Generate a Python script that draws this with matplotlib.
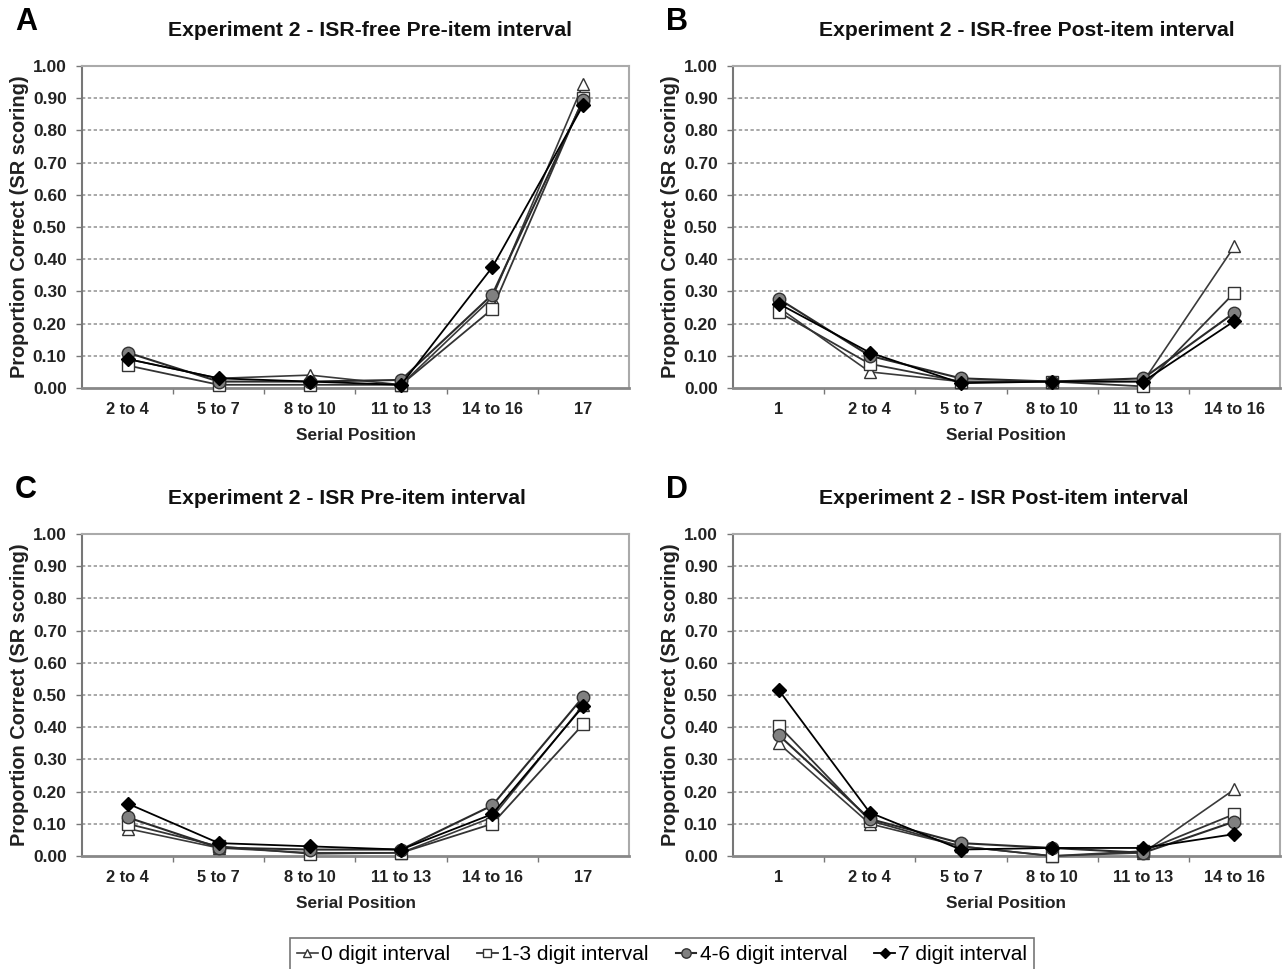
import matplotlib
matplotlib.use("Agg")
import matplotlib.pyplot as plt
from matplotlib.ticker import FixedLocator, NullFormatter
from matplotlib.lines import Line2D

plt.rcParams['font.family'] = ['Liberation Sans', 'DejaVu Sans']

cats_pre = ["2 to 4", "5 to 7", "8 to 10", "11 to 13", "14 to 16", "17"]
cats_post = ["1", "2 to 4", "5 to 7", "8 to 10", "11 to 13", "14 to 16"]

series_names = ["0 digit interval", "1-3 digit interval", "4-6 digit interval", "7 digit interval"]

# Panel A: ISR-free Pre-item interval
tri_A = [0.09, 0.03, 0.04, 0.01, 0.28, 0.945]
sq_A = [0.07, 0.01, 0.01, 0.01, 0.245, 0.90]
cir_A = [0.11, 0.02, 0.02, 0.025, 0.29, 0.895]
dia_A = [0.09, 0.03, 0.02, 0.01, 0.375, 0.88]

# Panel B: ISR-free Post-item interval
tri_B = [0.25, 0.05, 0.02, 0.02, 0.02, 0.44]
sq_B = [0.236, 0.075, 0.02, 0.02, 0.005, 0.296]
cir_B = [0.277, 0.10, 0.03, 0.02, 0.03, 0.234]
dia_B = [0.262, 0.11, 0.015, 0.02, 0.02, 0.208]

# Panel C: ISR Pre-item interval
tri_C = [0.085, 0.025, 0.01, 0.01, 0.12, 0.47]
sq_C = [0.10, 0.03, 0.007, 0.01, 0.10, 0.41]
cir_C = [0.12, 0.026, 0.02, 0.02, 0.157, 0.495]
dia_C = [0.163, 0.04, 0.03, 0.02, 0.13, 0.466]

# Panel D: ISR Post-item interval
tri_D = [0.35, 0.10, 0.03, 0.0, 0.01, 0.207]
sq_D = [0.405, 0.11, 0.03, 0.0, 0.015, 0.13]
cir_D = [0.376, 0.115, 0.04, 0.025, 0.01, 0.107]
dia_D = [0.516, 0.135, 0.02, 0.025, 0.025, 0.068]

yticks = [0.0, 0.1, 0.2, 0.3, 0.4, 0.5, 0.6, 0.7, 0.8, 0.9, 1.0]

styles = [
    dict(marker='^', mfc='white', mec='#333333', ms=8.5, color='#3a3a3a', lw=1.2, mew=1.0),
    dict(marker='s', mfc='white', mec='#333333', ms=8, color='#333333', lw=1.3, mew=1.0),
    dict(marker='o', mfc='#808080', mec='#333333', ms=9, color='#2a2a2a', lw=1.5, mew=1.0),
    dict(marker='D', mfc='black', mec='black', ms=7, color='black', lw=1.3, mew=1.0),
]

W, H = 1285, 969
fig = plt.figure(figsize=(W / 100, H / 100), dpi=100)

panels = [
    ("A", "Experiment 2 - ISR-free Pre-item interval", cats_pre, [tri_A, sq_A, cir_A, dia_A], 82, 66),
    ("B", "Experiment 2 - ISR-free Post-item interval", cats_post, [tri_B, sq_B, cir_B, dia_B], 733, 66),
    ("C", "Experiment 2 - ISR Pre-item interval", cats_pre, [tri_C, sq_C, cir_C, dia_C], 82, 534),
    ("D", "Experiment 2 - ISR Post-item interval", cats_post, [tri_D, sq_D, cir_D, dia_D], 733, 534),
]

axw, axh = 547, 322
for letter, title, cats, data, lx, ty in panels:
    ax = fig.add_axes([lx / W, 1 - (ty + axh) / H, axw / W, axh / H])
    x = list(range(len(cats)))
    for vals, st in zip(data, styles):
        ax.plot(x, vals, zorder=3, clip_on=False, **st)
    ax.set_xlim(-0.5, len(cats) - 0.5)
    ax.set_ylim(0, 1.0)
    ax.set_yticks(yticks)
    ax.set_yticklabels([f"{v:.2f}" for v in yticks], fontsize=12.5, fontweight='bold', color='#222222')
    ax.set_xticks(x)
    ax.set_xticklabels(cats, fontsize=11.8, fontweight='bold', color='#222222')
    ax.tick_params(axis='x', which='major', length=0, pad=10)
    ax.xaxis.set_minor_locator(FixedLocator([i + 0.5 for i in range(len(cats) - 1)]))
    ax.xaxis.set_minor_formatter(NullFormatter())
    ax.tick_params(axis='x', which='minor', length=4, width=1.0, color='#777777', direction='out')
    ax.tick_params(axis='y', length=4, width=1.0, color='#777777', direction='out', pad=7)
    for yv in yticks[1:-1]:
        ax.axhline(yv, color='#9a9a9a', lw=1.2, ls=(0, (2, 1.5)), zorder=1)
    for s in ['top', 'right']:
        ax.spines[s].set_color('#aaaaaa')
        ax.spines[s].set_linewidth(1.5)
    ax.spines['left'].set_color('#777777')
    ax.spines['left'].set_linewidth(1.5)
    ax.spines['bottom'].set_color('#888888')
    ax.spines['bottom'].set_linewidth(2.0)
    ax.set_ylabel("Proportion Correct (SR scoring)", fontsize=14.4, fontweight='bold', labelpad=3, color='#222222')
    ax.set_xlabel("Serial Position", fontsize=12.4, fontweight='bold', labelpad=8, color='#222222')
    fig.text((lx + 86) / W, 1 - (ty - 36) / H, title, fontsize=15.2, fontweight='bold',
             ha='left', va='center', color='#111111')
    ax.set_facecolor('white')
    fig.text((lx - 56) / W, 1 - (ty - 44) / H, letter, fontsize=22, fontweight='bold', ha='center', va='center')

handles = [Line2D([], [], **st) for st in styles]
leg = fig.legend(handles, series_names, loc='upper center', bbox_to_anchor=(662 / W, 1 - 938 / H),
                 ncol=4, fontsize=15, frameon=True, fancybox=False, edgecolor='#555555',
                 handlelength=1.0, handletextpad=0.15, columnspacing=1.3, borderpad=0.35,
                 borderaxespad=0, markerscale=0.75)
leg.get_frame().set_linewidth(1.2)

fig.savefig("out.png", dpi=100, facecolor='white')
